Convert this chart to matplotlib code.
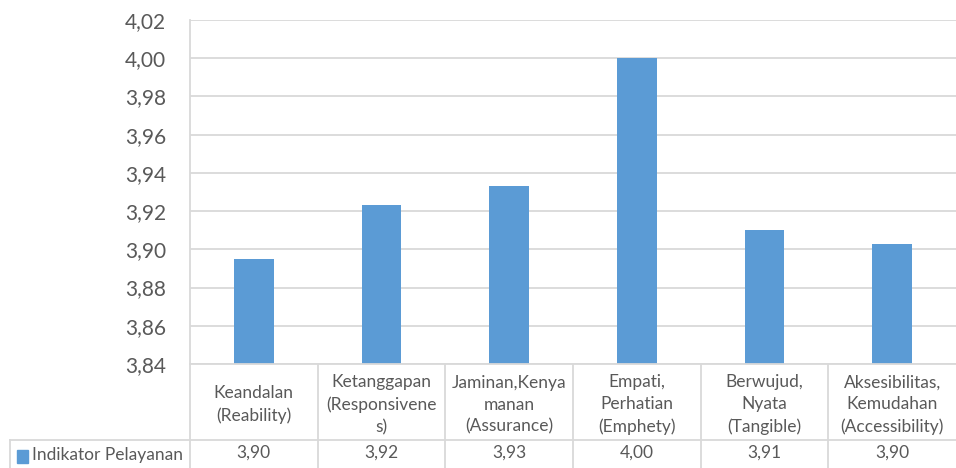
import numpy as np
import matplotlib.pyplot as plt
from matplotlib.transforms import blended_transform_factory

plt.rcParams['font.family'] = ['Lato', 'DejaVu Sans']

categories = ['Keandalan\n(Reability)', 'Ketanggapan\n(Responsivene\ns)',
              'Jaminan,Kenya\nmanan\n(Assurance)', 'Empati,\nPerhatian\n(Emphety)',
              'Berwujud,\nNyata\n(Tangible)', 'Aksesibilitas,\nKemudahan\n(Accessibility)']
values = [3.895, 3.923, 3.933, 4.000, 3.910, 3.903]
value_labels = ['3,90', '3,92', '3,93', '4,00', '3,91', '3,90']
series_name = 'Indikator Pelayanan'
yticks = [3.84, 3.86, 3.88, 3.90, 3.92, 3.94, 3.96, 3.98, 4.00, 4.02]

bar_color = '#5B9BD5'
grid_color = '#D9D9D9'
text_color = '#595959'

W, H = 956, 468
fig = plt.figure(figsize=(W / 100, H / 100), dpi=100)
ax = fig.add_axes([190 / W, 104 / H, 766 / W, 344 / H])

x = np.arange(len(values))
ax.bar(x, values, width=0.31, color=bar_color, zorder=2)
ax.set_xlim(-0.5, len(values) - 0.5)
ax.set_ylim(3.84, 4.02)
ax.set_yticks(yticks)
ax.set_yticklabels([('%.2f' % v).replace('.', ',') for v in yticks],
                   fontsize=15, color=text_color)
ax.set_xticks([])
ax.tick_params(axis='y', length=0, pad=17)
ax.yaxis.grid(True, color=grid_color, lw=1.3)
ax.set_axisbelow(True)
for s in ['top', 'right']:
    ax.spines[s].set_visible(False)
for s in ['left', 'bottom']:
    ax.spines[s].set_color(grid_color)
    ax.spines[s].set_linewidth(1.3)

# data table under the chart
trans = blended_transform_factory(ax.transData, ax.transAxes)
r1 = -76 / 344
r2 = -106 / 344
left = -0.5 - 180 / (766 / len(values))
line_kw = dict(color=grid_color, lw=1.3, transform=trans, clip_on=False)
for i in range(len(values)):
    ax.plot([i - 0.5, i - 0.5], [0, r2], **line_kw)
ax.plot([left, len(values) - 0.5], [r1, r1], **line_kw)
ax.plot([left, left], [r1, r2], **line_kw)

for i, (c, v) in enumerate(zip(categories, value_labels)):
    ax.text(i, r1 / 2 - 0.008, c, transform=trans, ha='center', va='center',
            fontsize=12.5, color=text_color, linespacing=1.45)
    ax.text(i, (r1 + r2) / 2 + 0.006, v, transform=trans, ha='center', va='center',
            fontsize=12.5, color=text_color)

fig.patches.append(plt.Rectangle((17 / W, (468 - 463) / H), 11 / W, 13 / H,
                                 color=bar_color, transform=fig.transFigure))
fig.text(32 / W, 1 - 455 / H, series_name, ha='left', va='center',
         fontsize=12.5, color=text_color)

fig.savefig('out.png', dpi=100)
